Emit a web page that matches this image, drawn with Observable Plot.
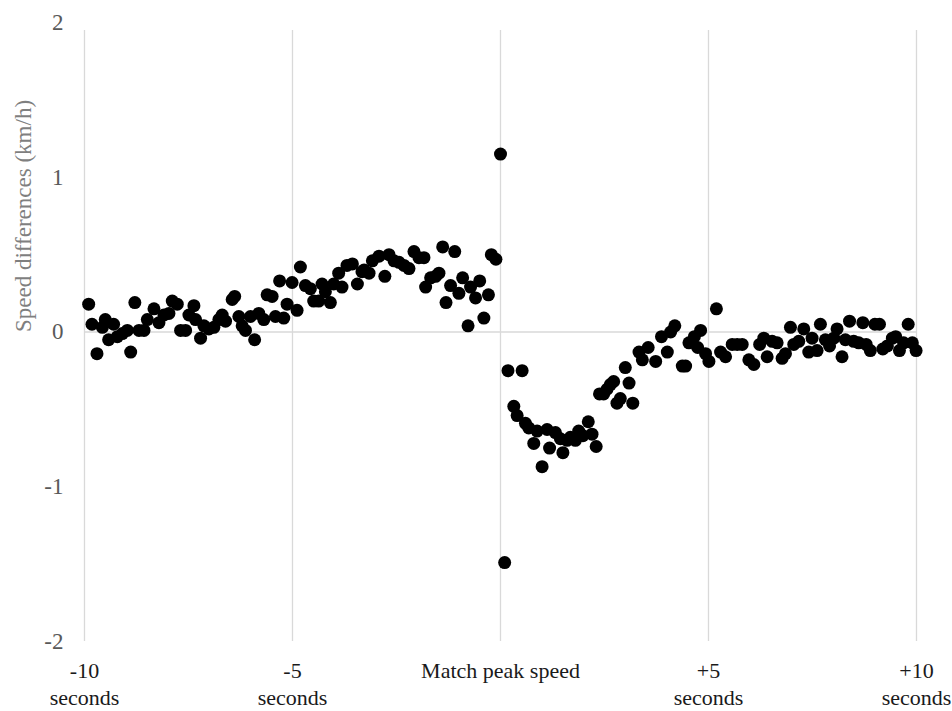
<!DOCTYPE html>
<html>
<head>
<meta charset="utf-8">
<script src="https://cdn.jsdelivr.net/npm/d3@7"></script>
<script src="https://cdn.jsdelivr.net/npm/@observablehq/plot@0.6"></script>
<style>
  html, body { margin: 0; padding: 0; background: #fff; }
  #chart svg { display: block; }
</style>
</head>
<body>
<div id="chart"></div>
<script>
// Time relative to match peak speed (seconds)
const times = [
  -9.90, -9.82, -9.70, -9.57, -9.50, -9.42, -9.30, -9.21, -9.09, -8.97,
  -8.89, -8.79, -8.69, -8.57, -8.49, -8.33, -8.21, -8.09, -7.97, -7.89,
  -7.77, -7.69, -7.57, -7.49, -7.37, -7.33, -7.21, -7.13, -7.01, -6.89,
  -6.77, -6.69, -6.61, -6.45, -6.39, -6.29, -6.21, -6.13, -6.01, -5.91,
  -5.81, -5.69, -5.61, -5.49, -5.41, -5.31, -5.21, -5.13, -5.01, -4.89,
  -4.81, -4.69, -4.57, -4.49, -4.37, -4.29, -4.21, -4.09, -4.01, -3.89,
  -3.81, -3.69, -3.56, -3.44, -3.33, -3.28, -3.16, -3.08, -2.92, -2.78,
  -2.68, -2.56, -2.44, -2.32, -2.20, -2.08, -1.96, -1.84, -1.80, -1.68,
  -1.56, -1.48, -1.39, -1.31, -1.20, -1.10, -1.00, -0.91, -0.78, -0.72,
  -0.60, -0.50, -0.40, -0.29, -0.22, -0.11, 0.00, 0.10, 0.18, 0.32,
  0.40, 0.52, 0.60, 0.68, 0.80, 0.88, 1.00, 1.12, 1.18, 1.32,
  1.44, 1.50, 1.60, 1.68, 1.80, 1.88, 1.98, 2.11, 2.20, 2.30,
  2.38, 2.48, 2.56, 2.64, 2.72, 2.80, 2.88, 3.00, 3.09, 3.18,
  3.33, 3.41, 3.55, 3.73, 3.87, 4.01, 4.09, 4.19, 4.37, 4.45,
  4.53, 4.66, 4.74, 4.81, 4.93, 5.01, 5.19, 5.29, 5.41, 5.57,
  5.69, 5.81, 5.97, 6.09, 6.23, 6.33, 6.41, 6.53, 6.65, 6.77,
  6.85, 6.97, 7.05, 7.17, 7.29, 7.41, 7.49, 7.61, 7.69, 7.81,
  7.91, 8.01, 8.09, 8.21, 8.29, 8.39, 8.49, 8.61, 8.71, 8.79,
  8.89, 9.00, 9.11, 9.19, 9.30, 9.42, 9.50, 9.59, 9.69, 9.80,
  9.90, 9.99
];

// Speed differences (km/h)
const speedDiffs = [
  0.18, 0.05, -0.14, 0.03, 0.08, -0.05, 0.05, -0.03, -0.01, 0.01,
  -0.13, 0.19, 0.01, 0.01, 0.08, 0.15, 0.06, 0.11, 0.12, 0.20,
  0.18, 0.01, 0.01, 0.11, 0.17, 0.08, -0.04, 0.04, 0.02, 0.03,
  0.08, 0.11, 0.07, 0.21, 0.23, 0.10, 0.04, 0.01, 0.10, -0.05,
  0.12, 0.08, 0.24, 0.23, 0.10, 0.33, 0.09, 0.18, 0.32, 0.14,
  0.42, 0.30, 0.28, 0.20, 0.20, 0.31, 0.26, 0.19, 0.31, 0.38,
  0.29, 0.43, 0.44, 0.31, 0.39, 0.40, 0.38, 0.46, 0.49, 0.36,
  0.50, 0.46, 0.45, 0.43, 0.41, 0.52, 0.48, 0.48, 0.29, 0.35,
  0.36, 0.38, 0.55, 0.19, 0.30, 0.52, 0.25, 0.35, 0.04, 0.29,
  0.22, 0.33, 0.09, 0.24, 0.50, 0.47, 1.15, -1.49, -0.25, -0.48,
  -0.54, -0.25, -0.59, -0.62, -0.72, -0.64, -0.87, -0.63, -0.75, -0.65,
  -0.69, -0.78, -0.70, -0.68, -0.70, -0.64, -0.67, -0.58, -0.66, -0.74,
  -0.40, -0.40, -0.37, -0.34, -0.32, -0.46, -0.43, -0.23, -0.33, -0.46,
  -0.13, -0.18, -0.10, -0.19, -0.03, -0.13, 0.00, 0.04, -0.22, -0.22,
  -0.07, -0.03, -0.10, 0.01, -0.14, -0.19, 0.15, -0.13, -0.16, -0.08,
  -0.08, -0.08, -0.18, -0.21, -0.08, -0.04, -0.16, -0.06, -0.07, -0.17,
  -0.14, 0.03, -0.08, -0.06, 0.02, -0.13, -0.04, -0.12, 0.05, -0.05,
  -0.09, -0.04, 0.02, -0.16, -0.05, 0.07, -0.06, -0.07, 0.06, -0.08,
  -0.12, 0.05, 0.05, -0.11, -0.09, -0.04, -0.03, -0.12, -0.07, 0.05,
  -0.07, -0.12
];

const xTicks = [-10, -5, 0, 5, 10];
const xTickLabels = ["-10\nseconds", "-5\nseconds", "Match peak speed", "+5\nseconds", "+10\nseconds"];
const yTicks = [-2, -1, 0, 1, 2];
const yTickLabels = ["-2", "-1", "0", "1", "2"];
const yTitle = "Speed differences (km/h)";

const data = times.map((t, i) => ({t, v: speedDiffs[i]}));
const xLabelMap = new Map(xTicks.map((t, i) => [t, xTickLabels[i]]));
const yLabelMap = new Map(yTicks.map((t, i) => [t, yTickLabels[i]]));

const font = "Liberation Serif, DejaVu Serif, Times New Roman, serif";

const chart = Plot.plot({
  width: 952,
  height: 711,
  marginLeft: 84,
  marginRight: 36,
  marginTop: 22,
  marginBottom: 70,
  style: {fontFamily: font, background: "#fff"},
  x: {domain: [-10, 10]},
  y: {domain: [-2, 2]},
  marks: [
    Plot.ruleX(xTicks, {y1: -2, y2: 2, stroke: "#d9d9d9", strokeWidth: 1.3, insetBottom: -8}),
    Plot.ruleY([0], {x1: -10, x2: 10, stroke: "#d9d9d9", strokeWidth: 1.3}),
    Plot.dot(data, {x: "t", y: "v", r: 6.5, fill: "#000", stroke: "none"}),
    Plot.axisX({
      ticks: xTicks,
      tickSize: 0,
      tickPadding: 18,
      tickFormat: d => xLabelMap.get(d),
      fontSize: 22,
      fontFamily: font,
      lineHeight: 1.2,
      fill: "#1a1a1a",
      label: null
    }),
    Plot.axisY({
      ticks: yTicks,
      tickSize: 0,
      tickPadding: 21,
      tickFormat: d => yLabelMap.get(d),
      fontSize: 23,
      fontFamily: font,
      fill: "#595959",
      label: null
    }),
    Plot.text([yTitle], {
      frameAnchor: "left",
      rotate: -90,
      dx: -61,
      text: d => d,
      fontSize: 23,
      fontFamily: font,
      fill: "#7f7f7f"
    })
  ]
});

document.getElementById("chart").appendChild(chart);
</script>
</body>
</html>
